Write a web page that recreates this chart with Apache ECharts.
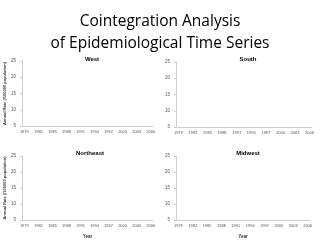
<!DOCTYPE html>
<html><head><meta charset="utf-8">
<script src="https://cdn.jsdelivr.net/npm/echarts@6/dist/echarts.min.js"></script>
<style>html,body{margin:0;padding:0;background:#fff}#c{width:320px;height:240px}</style>
</head><body><div id="c"></div>
<script>
const years = [];
for (let y = 1979; y <= 2006; y++) years.push(String(y));
const regions = ['West', 'South', 'Northeast', 'Midwest'];
const westRates = [];
const southRates = [];
const northeastRates = [];
const midwestRates = [];
const yTicks = [5, 10, 15, 20, 25];
const mainTitle = 'Cointegration Analysis\nof Epidemiological Time Series';
const yName = 'Annual Rate (/100000 population)';
const xName = 'Year';

const grids = [
  {left: 22, top: 61, width: 131, height: 65},
  {left: 176, top: 62, width: 136, height: 65},
  {left: 22, top: 156, width: 131, height: 64},
  {left: 176, top: 156, width: 134, height: 65}
];
const dataSets = [westRates, southRates, northeastRates, midwestRates];
const titleCenters = [[87, 51], [243, 51], [85, 145], [243, 145]];
const FF = 'Liberation Sans';
const chart = echarts.init(document.getElementById('c'), null, {renderer: 'canvas'});
const option = {
  animation: false,
  backgroundColor: '#fff',
  title: [{
    text: mainTitle, left: 'center', top: 6,
    textStyle: {fontFamily: 'Open Sans', fontSize: 15.5, fontWeight: 'normal', color: '#000', lineHeight: 22}
  }].concat(regions.map((r, i) => ({
    text: r, left: titleCenters[i][0], top: titleCenters[i][1], textAlign: 'center',
    textStyle: {fontFamily: FF, fontSize: 6, fontWeight: 'bold', color: '#000'}
  }))),
  grid: grids,
  xAxis: grids.map((g, i) => ({
    type: 'category', gridIndex: i, data: years, boundaryGap: true,
    name: i >= 2 ? xName : '', nameLocation: 'middle', nameGap: 14,
    nameTextStyle: {fontFamily: FF, fontSize: 4.5, fontWeight: 'bold', color: '#333'},
    axisLine: {lineStyle: {color: '#d0d0d0', width: 1}},
    axisTick: {show: false},
    axisLabel: {interval: 2, fontFamily: FF, fontSize: 4, color: '#555', margin: 4}
  })),
  yAxis: grids.map((g, i) => ({
    type: 'value', gridIndex: i, min: yTicks[0], max: yTicks[yTicks.length - 1], interval: 5,
    name: (i % 2 === 0) ? yName : '', nameLocation: 'middle', nameRotate: 90, nameGap: 12,
    nameTextStyle: {fontFamily: FF, fontSize: 4, fontWeight: 'bold', color: '#333'},
    axisLine: {show: true, lineStyle: {color: '#d0d0d0', width: 1}},
    axisTick: {show: true, length: 2, lineStyle: {color: '#d0d0d0'}},
    splitLine: {show: false},
    axisLabel: {fontFamily: FF, fontSize: 4.5, color: '#555', margin: 6}
  })),
  series: dataSets.map((d, i) => ({
    type: 'line', xAxisIndex: i, yAxisIndex: i, data: d, showSymbol: false,
    lineStyle: {color: '#4472c4', width: 1}
  }))
};
chart.setOption(option);
</script></body></html>
